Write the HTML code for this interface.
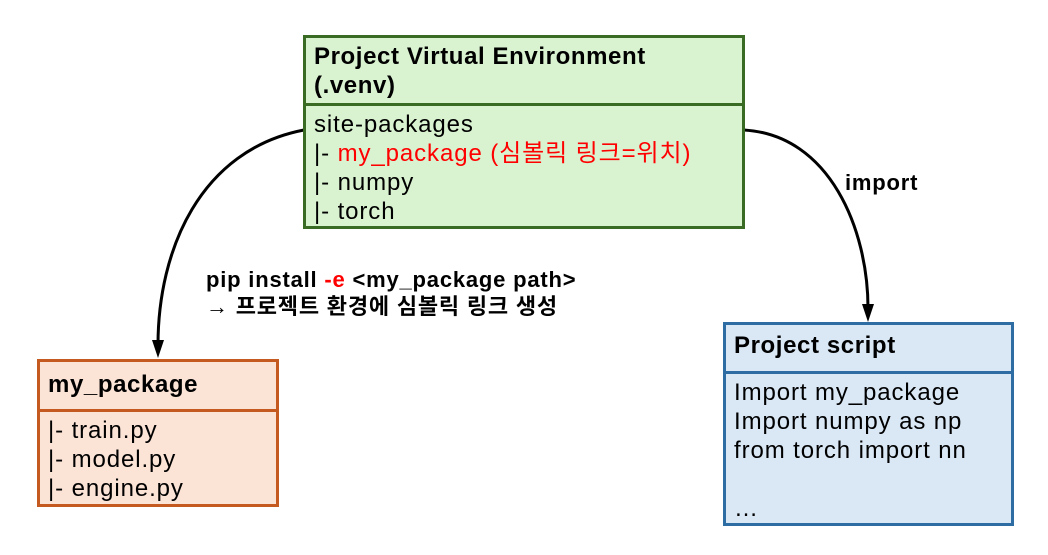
<!DOCTYPE html>
<html><head><meta charset="utf-8"><style>
body{margin:0;width:1048px;height:555px;background:#fff;position:relative;font-family:"Liberation Sans","Noto Sans CJK KR",sans-serif;overflow:hidden}
.box{position:absolute;box-sizing:border-box;border:3px solid}
.hd{font-weight:bold;font-size:24px;letter-spacing:0.6px;line-height:29px;padding:4px 8px;box-sizing:border-box;border-bottom:3px solid;white-space:nowrap}
.bd{font-size:24px;letter-spacing:0.9px;line-height:29px;padding:4px 8px;white-space:nowrap}
.t{position:absolute;font-weight:bold;font-size:22px;letter-spacing:0.8px;line-height:27px;white-space:nowrap}
</style></head><body>
<svg width="1048" height="555" style="position:absolute;left:0;top:0">
<path d="M304,130 C200,150 158,250 158,345" fill="none" stroke="#000" stroke-width="3"/>
<polygon points="152,340 164,340 158,358" fill="#000"/>
<path d="M744,130 C830,135 868,230 868,308" fill="none" stroke="#000" stroke-width="3"/>
<polygon points="862,304 874,304 868,322" fill="#000"/>
</svg>
<div class="box" style="left:303px;top:35px;width:442px;height:194px;background:#d9f2d0;border-color:#3a6b24">
<div class="hd" style="height:68px;border-color:#3a6b24">Project Virtual Environment<br>(.venv)</div>
<div class="bd">site-packages<br>|- <span style="color:#f00">my_package (심볼릭 링크=위치)</span><br>|- numpy<br>|- torch</div></div>
<div class="box" style="left:37px;top:359px;width:242px;height:148px;background:#fbe3d6;border-color:#c55a20">
<div class="hd" style="height:50px;padding-top:8px;border-color:#c55a20">my_package</div>
<div class="bd">|- train.py<br>|- model.py<br>|- engine.py</div></div>
<div class="box" style="left:723px;top:322px;width:291px;height:204px;background:#dae8f6;border-color:#2e6da4">
<div class="hd" style="height:49px;padding-top:6px;border-color:#2e6da4">Project script</div>
<div class="bd">Import my_package<br>Import numpy as np<br>from torch import nn<br><br>…</div></div>
<div class="t" style="left:206px;top:266px">pip install <span style="color:#f00">-e</span> &lt;my_package path&gt;<br>→ 프로젝트 환경에 심볼릭 링크 생성</div>
<div class="t" style="left:845px;top:169px">import</div>
</body></html>
